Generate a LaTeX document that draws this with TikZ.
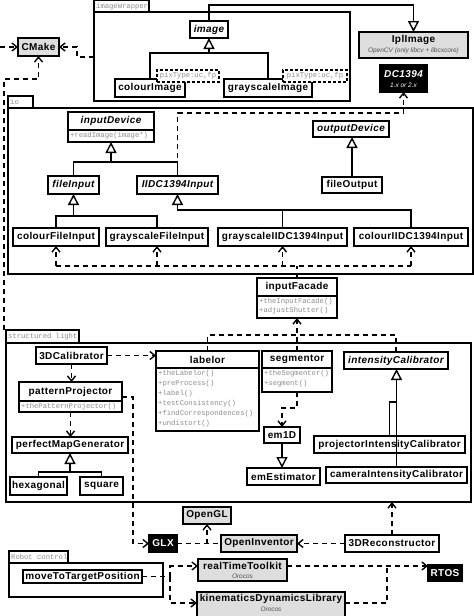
\documentclass[tikz,border=0pt]{standalone}
\usepackage{fontspec}
\setmainfont{Liberation Sans}
\newfontfamily\cf{Liberation Sans}[LetterSpace=4]
\newfontfamily\mf{Liberation Mono}
\usetikzlibrary{arrows.meta,calc}
\definecolor{libgray}{HTML}{DEDEDE}
\definecolor{methgray}{HTML}{8C8C8C}
\definecolor{subgray}{HTML}{505050}
\newcommand\nmfont{\cf\bfseries\fontsize{10}{12}\selectfont}
\newcommand\abfont{\cf\bfseries\itshape\fontsize{10}{12}\selectfont}
\newcommand\mtfont{\mf\fontsize{7.2}{8}\selectfont}
\newcommand\sbfont{\itshape\fontsize{6.5}{7}\selectfont}
\tikzset{
 cls/.style={draw, line width=1.6pt, fill=white, inner sep=0pt, outer sep=0pt, font=\nmfont},
 abscls/.style={cls, font=\abfont},
 libcls/.style={cls, fill=libgray},
 blkcls/.style={cls, fill=black, text=white},
 pkgbox/.style={draw, line width=1.5pt, inner sep=0pt, outer sep=0pt},
 tmplbox/.style={draw, line width=1.4pt, dash pattern=on 3pt off 2pt, fill=white, inner sep=0pt, outer sep=0pt, font=\mtfont, text=methgray},
 clsname/.style={inner sep=0pt, font=\nmfont},
 absname/.style={inner sep=0pt, font=\abfont},
 meth/.style={anchor=west, inner sep=0pt, font=\mtfont, text=methgray},
 pkglabel/.style={anchor=west, inner sep=0pt, font=\mtfont, text=methgray},
 subtxt/.style={inner sep=0pt, font=\sbfont},
 dep/.style={line width=1.5pt, dash pattern=on 5pt off 4pt, -{Straight Barb[length=5pt,width=8pt,line width=1.4pt]}},
 dline/.style={line width=1.5pt, dash pattern=on 5pt off 4pt},
 inh/.style={line width=1.4pt, -{Triangle[open,length=11pt,width=11pt,line width=1.4pt]}},
 sline/.style={line width=1.4pt},
 sep/.style={line width=1.3pt},
}
\newcommand\umlbox[7]{\node[#6, minimum width={(#4-#2)*1pt}, minimum height={(#5-#3)*1pt}] (#1) at ({(#2+#4)/2},{(#3+#5)/2}) {#7};}
\begin{document}
\begin{tikzpicture}[x=1pt,y=-1pt]
\useasboundingbox (0,0) rectangle (474,616);
\fill[white] (0,0) rectangle (474,616);

% ---------- packages ----------
\umlbox{iwtab}{94}{0}{149}{12}{pkgbox}{}
\umlbox{iwbody}{94}{12}{350}{101}{pkgbox}{}
\node[pkglabel] (iwlabel) at (96,6.5) {imageWrapper};
\umlbox{iotab}{8}{96}{33}{108}{pkgbox}{}
\umlbox{iobody}{8}{108}{473}{274}{pkgbox}{}
\node[pkglabel] (iolabel) at (10,102) {io};
\umlbox{sltab}{6}{330}{79}{343}{pkgbox}{}
\umlbox{slbody}{6}{343}{471}{502}{pkgbox}{}
\node[pkglabel] (sllabel) at (8,336.5) {structured light};
\umlbox{rctab}{9}{551}{68}{563}{pkgbox}{}
\umlbox{rcbody}{9}{563}{163}{597}{pkgbox}{}
\node[pkglabel] (rclabel) at (11,557) {Robot control};

% ---------- imageWrapper ----------
\umlbox{image}{190}{21}{228}{38}{abscls}{image}
\umlbox{colourImage}{115}{79}{185}{97}{cls}{colourImage}
\umlbox{grayscaleImage}{224}{79}{312}{97}{cls}{grayscaleImage}
\umlbox{tmplA}{157}{70}{219}{82}{tmplbox}{pixType:uc,fp}
\umlbox{tmplB}{283}{70}{347}{82}{tmplbox}{pixType:uc,fp}

\umlbox{IplImage}{359}{32}{468}{58}{libcls}{}
\node[clsname] (IplImageN) at (413.5,40) {IplImage};
\node[subtxt, text=subgray] (IplImageS) at (413.5,51) {OpenCV (only libcv + libcxcore)};
\umlbox{DC1394}{380}{65}{427}{92}{blkcls}{}
\node[absname, text=white] (DC1394N) at (403.5,74) {DC1394};
\node[subtxt, text=white] (DC1394S) at (403.5,85) {1.x or 2.x};
\umlbox{CMake}{18}{38}{59}{56}{libcls}{CMake}

% ---------- io ----------
\umlbox{inputDevice}{68}{112}{154}{142}{cls}{}
\node[absname] (inputDeviceN) at (111,121) {inputDevice};
\draw[sep] (inputDevice.west |- 0,130) -- (inputDevice.east |- 0,130);
\node[meth] (inputDeviceM) at (70,136) {+readImage(image*)};
\umlbox{outputDevice}{313}{121}{389}{137}{abscls}{outputDevice}
\umlbox{fileOutput}{322}{177}{382}{193}{cls}{fileOutput}
\umlbox{fileInput}{48}{176}{99}{194}{abscls}{fileInput}
\umlbox{IIDC1394Input}{137}{176}{218}{194}{abscls}{IIDC1394Input}
\umlbox{colourFileInput}{13}{228}{99}{246}{cls}{colourFileInput}
\umlbox{grayscaleFileInput}{106}{228}{208}{246}{cls}{grayscaleFileInput}
\umlbox{grayscaleIIDC1394Input}{218}{228}{347}{246}{cls}{grayscaleIIDC1394Input}
\umlbox{colourIIDC1394Input}{354}{228}{468}{246}{cls}{colourIIDC1394Input}

\umlbox{inputFacade}{257}{278}{337}{318}{cls}{}
\node[clsname] (inputFacadeN) at (297,287) {inputFacade};
\draw[sep] (inputFacade.west |- 0,296) -- (inputFacade.east |- 0,296);
\node[meth] (inputFacadeM1) at (259,301.5) {+theInputFacade()};
\node[meth] (inputFacadeM2) at (259,311) {+adjustShutter()};

% ---------- structured light ----------
\umlbox{calib3D}{36}{347}{107}{364}{cls}{3DCalibrator}
\umlbox{labelor}{156}{351}{259}{431}{cls}{}
\node[clsname] (labelorN) at (207.5,359.5) {labelor};
\draw[sep] (labelor.west |- 0,368) -- (labelor.east |- 0,368);
\node[meth] (labelorM1) at (158,373.5) {+theLabelor()};
\node[meth] (labelorM2) at (158,383.5) {+preProcess()};
\node[meth] (labelorM3) at (158,393.5) {+label()};
\node[meth] (labelorM4) at (158,403.5) {+testConsistency()};
\node[meth] (labelorM5) at (158,413.5) {+findCorrespondences()};
\node[meth] (labelorM6) at (158,423.5) {+undistort()};
\umlbox{segmentor}{262}{351}{332}{392}{cls}{}
\node[clsname] (segmentorN) at (297,359.5) {segmentor};
\draw[sep] (segmentor.west |- 0,368) -- (segmentor.east |- 0,368);
\node[meth] (segmentorM1) at (264,374) {+theSegmentor()};
\node[meth] (segmentorM2) at (264,384) {+segment()};
\umlbox{intensityCalibrator}{344}{352}{448}{369}{abscls}{intensityCalibrator}
\umlbox{patternProjector}{19}{382}{122}{412}{cls}{}
\node[clsname] (patternProjectorN) at (70.5,391.5) {patternProjector};
\draw[sep] (patternProjector.west |- 0,401) -- (patternProjector.east |- 0,401);
\node[meth] (patternProjectorM) at (21,406.5) {+thePatternProjector()};
\umlbox{perfectMapGenerator}{12}{437}{128}{453}{cls}{perfectMapGenerator}
\umlbox{hexagonal}{10}{477}{67}{495}{cls}{hexagonal}
\umlbox{square}{80}{477}{123}{495}{cls}{square}
\umlbox{em1D}{264}{427}{300}{443}{cls}{em1D}
\umlbox{emEstimator}{247}{468}{320}{485}{cls}{emEstimator}
\umlbox{projectorIntensityCalibrator}{314}{436}{465}{453}{cls}{projectorIntensityCalibrator}
\umlbox{cameraIntensityCalibrator}{326}{467}{467}{483}{cls}{cameraIntensityCalibrator}

% ---------- bottom ----------
\umlbox{OpenGL}{183}{507}{231}{524}{libcls}{OpenGL}
\umlbox{GLX}{149}{535}{177}{552}{blkcls}{GLX}
\umlbox{OpenInventor}{221}{535}{297}{552}{libcls}{OpenInventor}
\umlbox{recon}{345}{535}{439}{552}{cls}{3DReconstructor}
\umlbox{moveToTargetPosition}{23}{570}{142}{583}{cls}{moveToTargetPosition}
\umlbox{realTimeToolkit}{198}{559}{287}{581}{libcls}{}
\node[clsname] (realTimeToolkitN) at (242.5,565.5) {realTimeToolkit};
\node[subtxt, text=subgray] (realTimeToolkitS) at (242.5,576) {Orocos};
\umlbox{kinematics}{197}{592}{345}{620}{libcls}{}
\node[clsname] (kinematicsN) at (271,598.5) {kinematicsDynamicsLibrary};
\node[subtxt, text=subgray] (kinematicsS) at (271,609) {Orocos};
\umlbox{RTOS}{428}{565}{462}{581}{blkcls}{RTOS}

% ---------- connectors: generalisation ----------
\draw[inh] (image.north) -- (image.north |- 0,5) -| (IplImage.north);
\coordinate (imgJ) at (209,53);
\draw[sline] (colourImage.north) |- (imgJ);
\draw[inh] (grayscaleImage.north) |- (imgJ) -- (image.south);
\coordinate (idJ) at (111,162);
\draw[sline] (fileInput.north) |- (idJ);
\draw[inh] (IIDC1394Input.north) |- (idJ) -- (inputDevice.south);
\coordinate (fiJ) at (73.5,216);
\draw[sline] (colourFileInput.north) |- (fiJ);
\draw[inh] (grayscaleFileInput.north) |- (fiJ) -- (fileInput.south);
\coordinate (iiJ) at (177.5,210);
\draw[sline] (grayscaleIIDC1394Input.north) |- (iiJ);
\draw[inh] (colourIIDC1394Input.north) |- (iiJ) -- (IIDC1394Input.south);
\draw[inh] (fileOutput.north) -- (fileOutput.north |- outputDevice.south);
\coordinate (pmJ) at (70,472);
\draw[sline] (hexagonal.north) |- (pmJ);
\draw[inh] (square.north) |- (pmJ) -- (perfectMapGenerator.south);
\draw[inh] (em1D.south) -- (em1D.south |- emEstimator.north);
\coordinate (icJ) at (396.5,402);
\draw[sline] (projectorIntensityCalibrator.north) |- (icJ);
\draw[inh] (cameraIntensityCalibrator.north) -- (cameraIntensityCalibrator.north |- intensityCalibrator.south);

% ---------- connectors: dependencies ----------
\draw[dep] ([yshift=-45pt]iwbody.north west) -- ++(-17,0) |- (CMake.east);
\draw[dep] ([xshift=-2pt]sltab.north west) -- ([xshift=-2pt]sltab.north west |- 0,79) -| (CMake.south);
\coordinate (cmkIn) at (0,47);
\draw[dep] (cmkIn) -- (CMake.west);
\draw[dep] (IIDC1394Input.north) -- (IIDC1394Input.north |- 0,113) -| (DC1394.south);

\coordinate (facBus) at (297,266);
\draw[dline] (inputFacade.north) -- (facBus);
\draw[dline] (colourFileInput.south |- facBus) -- (colourIIDC1394Input.south |- facBus);
\draw[dep] (colourFileInput.south |- facBus) -- (colourFileInput.south);
\draw[dep] (grayscaleFileInput.south |- facBus) -- (grayscaleFileInput.south);
\draw[dep] (grayscaleIIDC1394Input.south |- facBus) -- (grayscaleIIDC1394Input.south);
\draw[dep] (colourIIDC1394Input.south |- facBus) -- (colourIIDC1394Input.south);

\coordinate (slBus) at (297,335);
\draw[dline] (labelor.north) |- (intensityCalibrator.north |- slBus) -- (intensityCalibrator.north);
\draw[dep] (segmentor.north) -- (inputFacade.south);

\draw[dep] (calib3D.east) -- (calib3D.east -| labelor.west);
\draw[dep] (calib3D.south) -- (calib3D.south |- patternProjector.north);
\draw[dep] (patternProjector.south) -- (patternProjector.south |- perfectMapGenerator.north);
\draw[dep] (patternProjector.east) -- ++(11,0) |- (GLX.west);
\draw[dep] (segmentor.south) -- ++(0,16) -| (em1D.north);

\draw[dep] (recon.west) -- (OpenInventor.east);
\draw[dep] (recon.north) -- (recon.north |- slbody.south);
\draw[dline] (GLX.east) -- (OpenInventor.west);
\draw[dep] (GLX.east -| OpenGL.south) -- (OpenGL.south);

\coordinate (mvJ) at (170,576.5);
\draw[dline] (moveToTargetPosition.east) -- (mvJ);
\draw[dep] (mvJ) |- ([yshift=-7pt]realTimeToolkit.north west);
\draw[dep] (mvJ) |- ([yshift=-11pt]kinematics.north west);
\draw[dep] ([yshift=-7pt]realTimeToolkit.north east) -- ([yshift=-7pt]realTimeToolkit.north east -| RTOS.west);
\coordinate (rtJ) at (387,566);
\draw[dline] ([yshift=-11pt]kinematics.north east) -| (rtJ);
\end{tikzpicture}
\end{document}
